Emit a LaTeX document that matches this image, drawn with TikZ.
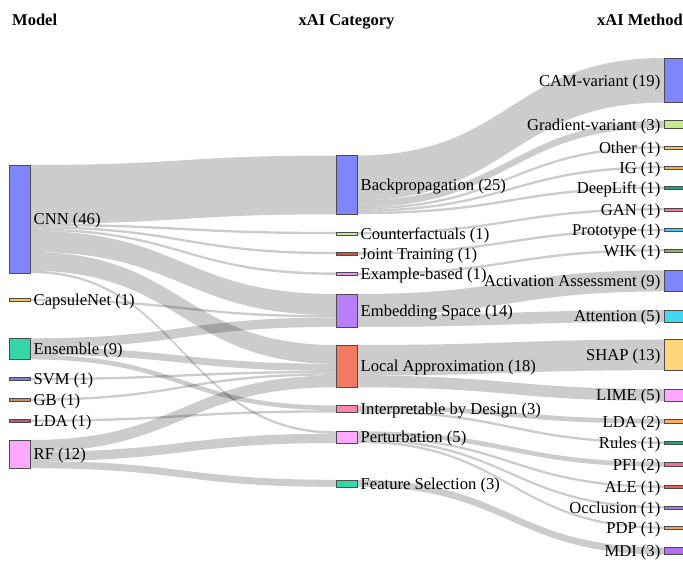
\documentclass[tikz,border=0pt]{standalone}
\usepackage{fontspec}
\setmainfont{Liberation Serif}
\usetikzlibrary{positioning,backgrounds}

\definecolor{cnnc}{HTML}{7F86FD}
\definecolor{capsc}{HTML}{F7C548}
\definecolor{ensc}{HTML}{33D6A8}
\definecolor{svmc}{HTML}{7A7FD6}
\definecolor{gbc}{HTML}{C89060}
\definecolor{ldac}{HTML}{C05878}
\definecolor{rfc}{HTML}{FFA8FF}
\definecolor{cfc}{HTML}{C4E89A}
\definecolor{jtc}{HTML}{C45A4A}
\definecolor{exbc}{HTML}{F090F0}
\definecolor{esc}{HTML}{B97EF8}
\definecolor{lac}{HTML}{F27A64}
\definecolor{ibdc}{HTML}{FF85A8}
\definecolor{pertc}{HTML}{FFAAFF}
\definecolor{fsc}{HTML}{33D6A8}
\definecolor{gradc}{HTML}{C4EA8E}
\definecolor{otherc}{HTML}{F5C060}
\definecolor{igc}{HTML}{F0B050}
\definecolor{dlc}{HTML}{22A07E}
\definecolor{ganc}{HTML}{F07A9A}
\definecolor{protoc}{HTML}{40C8F0}
\definecolor{wikc}{HTML}{90B070}
\definecolor{attc}{HTML}{44D8F0}
\definecolor{shapc}{HTML}{FFD47A}
\definecolor{limec}{HTML}{FFA8FF}
\definecolor{ldaxc}{HTML}{FFA868}
\definecolor{rulesc}{HTML}{26A07E}
\definecolor{pfic}{HTML}{F27090}
\definecolor{alec}{HTML}{F0604A}
\definecolor{occc}{HTML}{A878F0}
\definecolor{pdpc}{HTML}{F0A060}
\definecolor{mdic}{HTML}{B070F0}

% band from #1 (offset #2) to #3 (offset #4), width #5
\newcommand{\sflow}[5]{%
  \fill[flowband] ([yshift=-#2pt]#1.north east)
    .. controls +(153,0) and +(-153,0) .. ([yshift=-#4pt]#3.north west)
    -- ([yshift=-#4pt-#5pt]#3.north west)
    .. controls +(-153,0) and +(153,0) .. ([yshift=-#2pt-#5pt]#1.north east) -- cycle;}

\begin{document}
\begin{tikzpicture}[x=1pt,y=-1pt,
    blk/.style={draw=black!70,line width=0.5pt,anchor=north west,minimum width=21pt,inner sep=0pt,outer sep=0pt},
    lbl/.style={inner sep=0pt,yshift=-1.8pt,font=\fontsize{16.6}{18}\selectfont},
    hdr/.style={inner sep=0pt,font=\fontsize{16.5}{18}\selectfont\bfseries},
    flowband/.style={fill=black,fill opacity=0.2}]
    \useasboundingbox (0,0) rectangle (683,562);

    % headers
    \node[hdr,anchor=base west] (hmodel) at (12,25) {Model};
    \node[hdr,anchor=base] (hcat) at (346.5,25) {xAI Category};
    \node[hdr,anchor=base east] (hmeth) at (683,25) {xAI Method};

    % models
    \node[blk,fill=cnnc,minimum height=108.1pt] (cnn) at (9,165) {};
    \node[blk,fill=capsc,minimum height=3pt] (caps) at (9,298.5) {};
    \node[blk,fill=ensc,minimum height=21.15pt] (ens) at (9,338.3) {};
    \node[blk,fill=svmc,minimum height=3pt] (svm) at (9,377.5) {};
    \node[blk,fill=gbc,minimum height=3pt] (gb) at (9,398.2) {};
    \node[blk,fill=ldac,minimum height=3pt] (lda) at (9,419.2) {};
    \node[blk,fill=rfc,minimum height=28.2pt] (rf) at (9,440) {};

    \node[lbl,right=3.5pt of cnn] (cnnt) {CNN (46)};
    \node[lbl,right=3.5pt of caps] (capst) {CapsuleNet (1)};
    \node[lbl,right=3.5pt of ens] (enst) {Ensemble (9)};
    \node[lbl,right=3.5pt of svm] (svmt) {SVM (1)};
    \node[lbl,right=3.5pt of gb] (gbt) {GB (1)};
    \node[lbl,right=3.5pt of lda] (ldat) {LDA (1)};
    \node[lbl,right=3.5pt of rf] (rft) {RF (12)};

    % categories
    \node[blk,fill=cnnc,minimum height=58.75pt] (bp) at (336,155.5) {};
    \node[blk,fill=cfc,minimum height=3pt] (cf) at (336,231.9) {};
    \node[blk,fill=jtc,minimum height=3pt] (jt) at (336,251.9) {};
    \node[blk,fill=exbc,minimum height=3pt] (exb) at (336,272.5) {};
    \node[blk,fill=esc,minimum height=32.9pt] (es) at (336,294) {};
    \node[blk,fill=lac,minimum height=42.3pt] (la) at (336,345) {};
    \node[blk,fill=ibdc,minimum height=7.05pt] (ibd) at (336,405.5) {};
    \node[blk,fill=pertc,minimum height=11.75pt] (pert) at (336,431.3) {};
    \node[blk,fill=fsc,minimum height=7.05pt] (fs) at (336,479.8) {};

    \node[lbl,right=3.5pt of bp] (bpt) {Backpropagation (25)};
    \node[lbl,right=3.5pt of cf] (cft) {Counterfactuals (1)};
    \node[lbl,right=3.5pt of jt] (jtt) {Joint Training (1)};
    \node[lbl,right=3.5pt of exb] (exbt) {Example-based (1)};
    \node[lbl,right=3.5pt of es] (est) {Embedding Space (14)};
    \node[lbl,right=3.5pt of la] (lat) {Local Approximation (18)};
    \node[lbl,right=3.5pt of ibd] (ibdt) {Interpretable by Design (3)};
    \node[lbl,right=3.5pt of pert] (pertt) {Perturbation (5)};
    \node[lbl,right=3.5pt of fs] (fst) {Feature Selection (3)};

    % methods
    \node[blk,fill=cnnc,minimum height=44.65pt] (cam) at (664,58) {};
    \node[blk,fill=gradc,minimum height=7.05pt] (grad) at (664,120.7) {};
    \node[blk,fill=otherc,minimum height=3pt] (other) at (664,145.8) {};
    \node[blk,fill=igc,minimum height=3pt] (ig) at (664,165.8) {};
    \node[blk,fill=dlc,minimum height=3pt] (dl) at (664,186.2) {};
    \node[blk,fill=ganc,minimum height=3pt] (gan) at (664,207.8) {};
    \node[blk,fill=protoc,minimum height=3pt] (proto) at (664,228.5) {};
    \node[blk,fill=wikc,minimum height=3pt] (wik) at (664,248.8) {};
    \node[blk,fill=cnnc,minimum height=21.15pt] (act) at (664,270.3) {};
    \node[blk,fill=attc,minimum height=11.75pt] (att) at (664,310.2) {};
    \node[blk,fill=shapc,minimum height=30.55pt] (shap) at (664,339.6) {};
    \node[blk,fill=limec,minimum height=11.75pt] (lime) at (664,389) {};
    \node[blk,fill=ldaxc,minimum height=4.7pt] (ldax) at (664,418.9) {};
    \node[blk,fill=rulesc,minimum height=3pt] (rules) at (664,441.2) {};
    \node[blk,fill=pfic,minimum height=4.7pt] (pfi) at (664,462) {};
    \node[blk,fill=alec,minimum height=3pt] (ale) at (664,485.2) {};
    \node[blk,fill=occc,minimum height=3pt] (occ) at (664,505.8) {};
    \node[blk,fill=pdpc,minimum height=3pt] (pdp) at (664,526.2) {};
    \node[blk,fill=mdic,minimum height=7.05pt] (mdi) at (664,547.5) {};

    \node[lbl,left=3.5pt of cam] (camt) {CAM-variant (19)};
    \node[lbl,left=3.5pt of grad] (gradt) {Gradient-variant (3)};
    \node[lbl,left=3.5pt of other] (othert) {Other (1)};
    \node[lbl,left=3.5pt of ig] (igt) {IG (1)};
    \node[lbl,left=3.5pt of dl] (dlt) {DeepLift (1)};
    \node[lbl,left=3.5pt of gan] (gant) {GAN (1)};
    \node[lbl,left=3.5pt of proto] (protot) {Prototype (1)};
    \node[lbl,left=3.5pt of wik] (wikt) {WIK (1)};
    \node[lbl,left=3.5pt of act] (actt) {Activation Assessment (9)};
    \node[lbl,left=3.5pt of att] (attt) {Attention (5)};
    \node[lbl,left=3.5pt of shap] (shapt) {SHAP (13)};
    \node[lbl,left=3.5pt of lime] (limet) {LIME (5)};
    \node[lbl,left=3.5pt of ldax] (ldaxt) {LDA (2)};
    \node[lbl,left=3.5pt of rules] (rulest) {Rules (1)};
    \node[lbl,left=3.5pt of pfi] (pfit) {PFI (2)};
    \node[lbl,left=3.5pt of ale] (alet) {ALE (1)};
    \node[lbl,left=3.5pt of occ] (occt) {Occlusion (1)};
    \node[lbl,left=3.5pt of pdp] (pdpt) {PDP (1)};
    \node[lbl,left=3.5pt of mdi] (mdit) {MDI (3)};

    \begin{scope}[on background layer]
        \fill[white] (0,0) rectangle (683,562);
        % model -> category
        \sflow{cnn}{0}{bp}{0}{58.75}
        \sflow{cnn}{58.75}{cf}{0}{2.35}
        \sflow{cnn}{61.1}{jt}{0}{2.35}
        \sflow{cnn}{63.45}{exb}{0}{2.35}
        \sflow{cnn}{65.8}{es}{0}{21.15}
        \sflow{cnn}{86.95}{la}{0}{18.8}
        \sflow{cnn}{105.75}{pert}{0}{2.35}
        \sflow{caps}{0.3}{es}{21.15}{2.35}
        \sflow{ens}{0}{es}{23.5}{9.4}
        \sflow{ens}{9.4}{la}{18.8}{7.05}
        \sflow{ens}{16.45}{ibd}{0}{4.7}
        \sflow{svm}{0.3}{la}{25.85}{2.35}
        \sflow{gb}{0.3}{la}{28.2}{2.35}
        \sflow{lda}{0.3}{ibd}{4.7}{2.35}
        \sflow{rf}{0}{la}{30.55}{11.75}
        \sflow{rf}{11.75}{pert}{2.35}{9.4}
        \sflow{rf}{21.15}{fs}{0}{7.05}
        % category -> method
        \sflow{bp}{0}{cam}{0}{44.65}
        \sflow{bp}{44.65}{grad}{0}{7.05}
        \sflow{bp}{51.7}{other}{0.3}{2.35}
        \sflow{bp}{54.05}{ig}{0.3}{2.35}
        \sflow{bp}{56.4}{dl}{0.3}{2.35}
        \sflow{cf}{0.3}{gan}{0.3}{2.35}
        \sflow{jt}{0.3}{proto}{0.3}{2.35}
        \sflow{exb}{0.3}{wik}{0.3}{2.35}
        \sflow{es}{0}{act}{0}{21.15}
        \sflow{es}{21.15}{att}{0}{11.75}
        \sflow{la}{0}{shap}{0}{30.55}
        \sflow{la}{30.55}{lime}{0}{11.75}
        \sflow{ibd}{0}{ldax}{0}{4.7}
        \sflow{ibd}{4.7}{rules}{0.3}{2.35}
        \sflow{pert}{0}{pfi}{0}{4.7}
        \sflow{pert}{4.7}{ale}{0.3}{2.35}
        \sflow{pert}{7.05}{occ}{0.3}{2.35}
        \sflow{pert}{9.4}{pdp}{0.3}{2.35}
        \sflow{fs}{0}{mdi}{0}{7.05}
    \end{scope}
\end{tikzpicture}
\end{document}
